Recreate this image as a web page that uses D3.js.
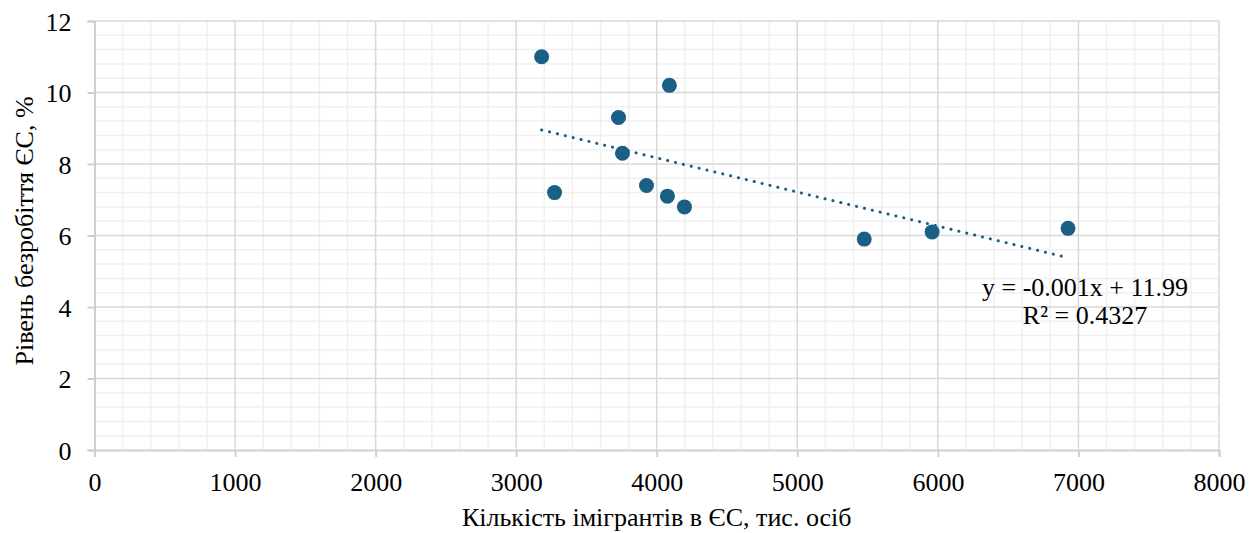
<!DOCTYPE html>
<html>
<head>
<meta charset="utf-8">
<script src="https://cdn.jsdelivr.net/npm/d3@7"></script>
<style>
  body { margin: 0; background: #fff; }
  svg text { font-family: "Liberation Serif", "Times New Roman", serif; fill: #000; }
</style>
</head>
<body>
<svg id="chart" width="1259" height="533"></svg>
<script>
// immigrants in EU (thousand persons) vs EU unemployment rate (%)
const immigrants = [3181, 3273, 3728, 3756, 3927, 4090, 4076, 4197, 5476, 5959, 6926];
const unemployment = [11.0, 7.2, 9.3, 8.3, 7.4, 10.2, 7.1, 6.8, 5.9, 6.1, 6.2];
const xTicks = [0, 1000, 2000, 3000, 4000, 5000, 6000, 7000, 8000];
const yTicks = [0, 2, 4, 6, 8, 10, 12];
const xTitle = "Кількість імігрантів в ЄС, тис. осіб";
const yTitle = "Рівень безробіття ЄС, %";
const eqLabel = "y = -0.001x + 11.99";
const r2Label = "R² = 0.4327";

const W = 1259, H = 533;
const margin = { top: 21, right: 40, bottom: 83, left: 94.5 };
const color = "#1a5f85";
const fontSize = 26;

const svg = d3.select("#chart");

const x = d3.scaleLinear().domain([0, 8000]).range([margin.left, W - margin.right]);
const y = d3.scaleLinear().domain([0, 12]).range([H - margin.bottom, margin.top]);

// minor grid
const grid = svg.append("g");
grid.selectAll(".vminor")
  .data(d3.range(0, 8001, 200).filter((d) => d % 1000 !== 0))
  .join("line")
  .attr("x1", (d) => x(d)).attr("x2", (d) => x(d))
  .attr("y1", y(0)).attr("y2", y(12))
  .attr("stroke", "#f0f0f0").attr("stroke-width", 1.5);
grid.selectAll(".hminor")
  .data(d3.range(0, 12.01, 0.4).filter((d) => Math.abs(d / 2 - Math.round(d / 2)) > 0.01))
  .join("line")
  .attr("x1", x(0)).attr("x2", x(8000))
  .attr("y1", (d) => y(d)).attr("y2", (d) => y(d))
  .attr("stroke", "#f0f0f0").attr("stroke-width", 1.5);

// major grid
grid.selectAll(".vmajor")
  .data(xTicks.slice(1))
  .join("line")
  .attr("x1", (d) => x(d)).attr("x2", (d) => x(d))
  .attr("y1", y(0)).attr("y2", y(12))
  .attr("stroke", "#d9d9d9").attr("stroke-width", 1.5);
grid.selectAll(".hmajor")
  .data(yTicks.slice(1))
  .join("line")
  .attr("x1", x(0)).attr("x2", x(8000))
  .attr("y1", (d) => y(d)).attr("y2", (d) => y(d))
  .attr("stroke", "#d9d9d9").attr("stroke-width", 1.5);

// axes
const xAxis = svg.append("g")
  .attr("transform", `translate(0,${y(0)})`)
  .call(d3.axisBottom(x).tickValues(xTicks).tickSize(7).tickPadding(16).tickFormat(d3.format("d")));
const yAxis = svg.append("g")
  .attr("transform", `translate(${x(0)},0)`)
  .call(d3.axisLeft(y).tickValues(yTicks).tickSize(7).tickPadding(16).tickFormat(d3.format("d")));
[xAxis, yAxis].forEach((a) => {
  a.select(".domain").attr("stroke", "#d0d0d0").attr("stroke-width", 2);
  a.selectAll(".tick line").attr("stroke", "#d0d0d0").attr("stroke-width", 2);
  a.selectAll(".tick text").attr("font-size", fontSize).attr("font-family", "Liberation Serif").attr("fill", "#000");
});
yAxis.selectAll(".tick text").attr("dy", "0.35em");

// trendline (least squares)
const mx = d3.mean(immigrants), my = d3.mean(unemployment);
const sxy = d3.sum(immigrants, (v, i) => (v - mx) * (unemployment[i] - my));
const sxx = d3.sum(immigrants, (v) => (v - mx) ** 2);
const slope = sxy / sxx, intercept = my - slope * mx;
const [x0, x1] = d3.extent(immigrants);
svg.append("line")
  .attr("x1", x(x0)).attr("y1", y(intercept + slope * x0))
  .attr("x2", x(x1)).attr("y2", y(intercept + slope * x1))
  .attr("stroke", color).attr("stroke-width", 3)
  .attr("stroke-linecap", "round").attr("stroke-dasharray", "0.1 8");

// points
svg.append("g")
  .selectAll("circle")
  .data(immigrants)
  .join("circle")
  .attr("cx", (d) => x(d))
  .attr("cy", (d, i) => y(unemployment[i]))
  .attr("r", 7.5)
  .attr("fill", color);

// equation label
const eq = svg.append("g").attr("font-size", fontSize).attr("text-anchor", "middle");
eq.append("text").attr("x", 1085).attr("y", 296).text(eqLabel);
eq.append("text").attr("x", 1085).attr("y", 324).text(r2Label);

// axis titles
svg.append("text")
  .attr("x", x(4000)).attr("y", 526)
  .attr("text-anchor", "middle").attr("font-size", fontSize)
  .text(xTitle);
svg.append("text")
  .attr("transform", `translate(33,231) rotate(-90)`)
  .attr("text-anchor", "middle").attr("font-size", fontSize)
  .text(yTitle);
</script>
</body>
</html>
